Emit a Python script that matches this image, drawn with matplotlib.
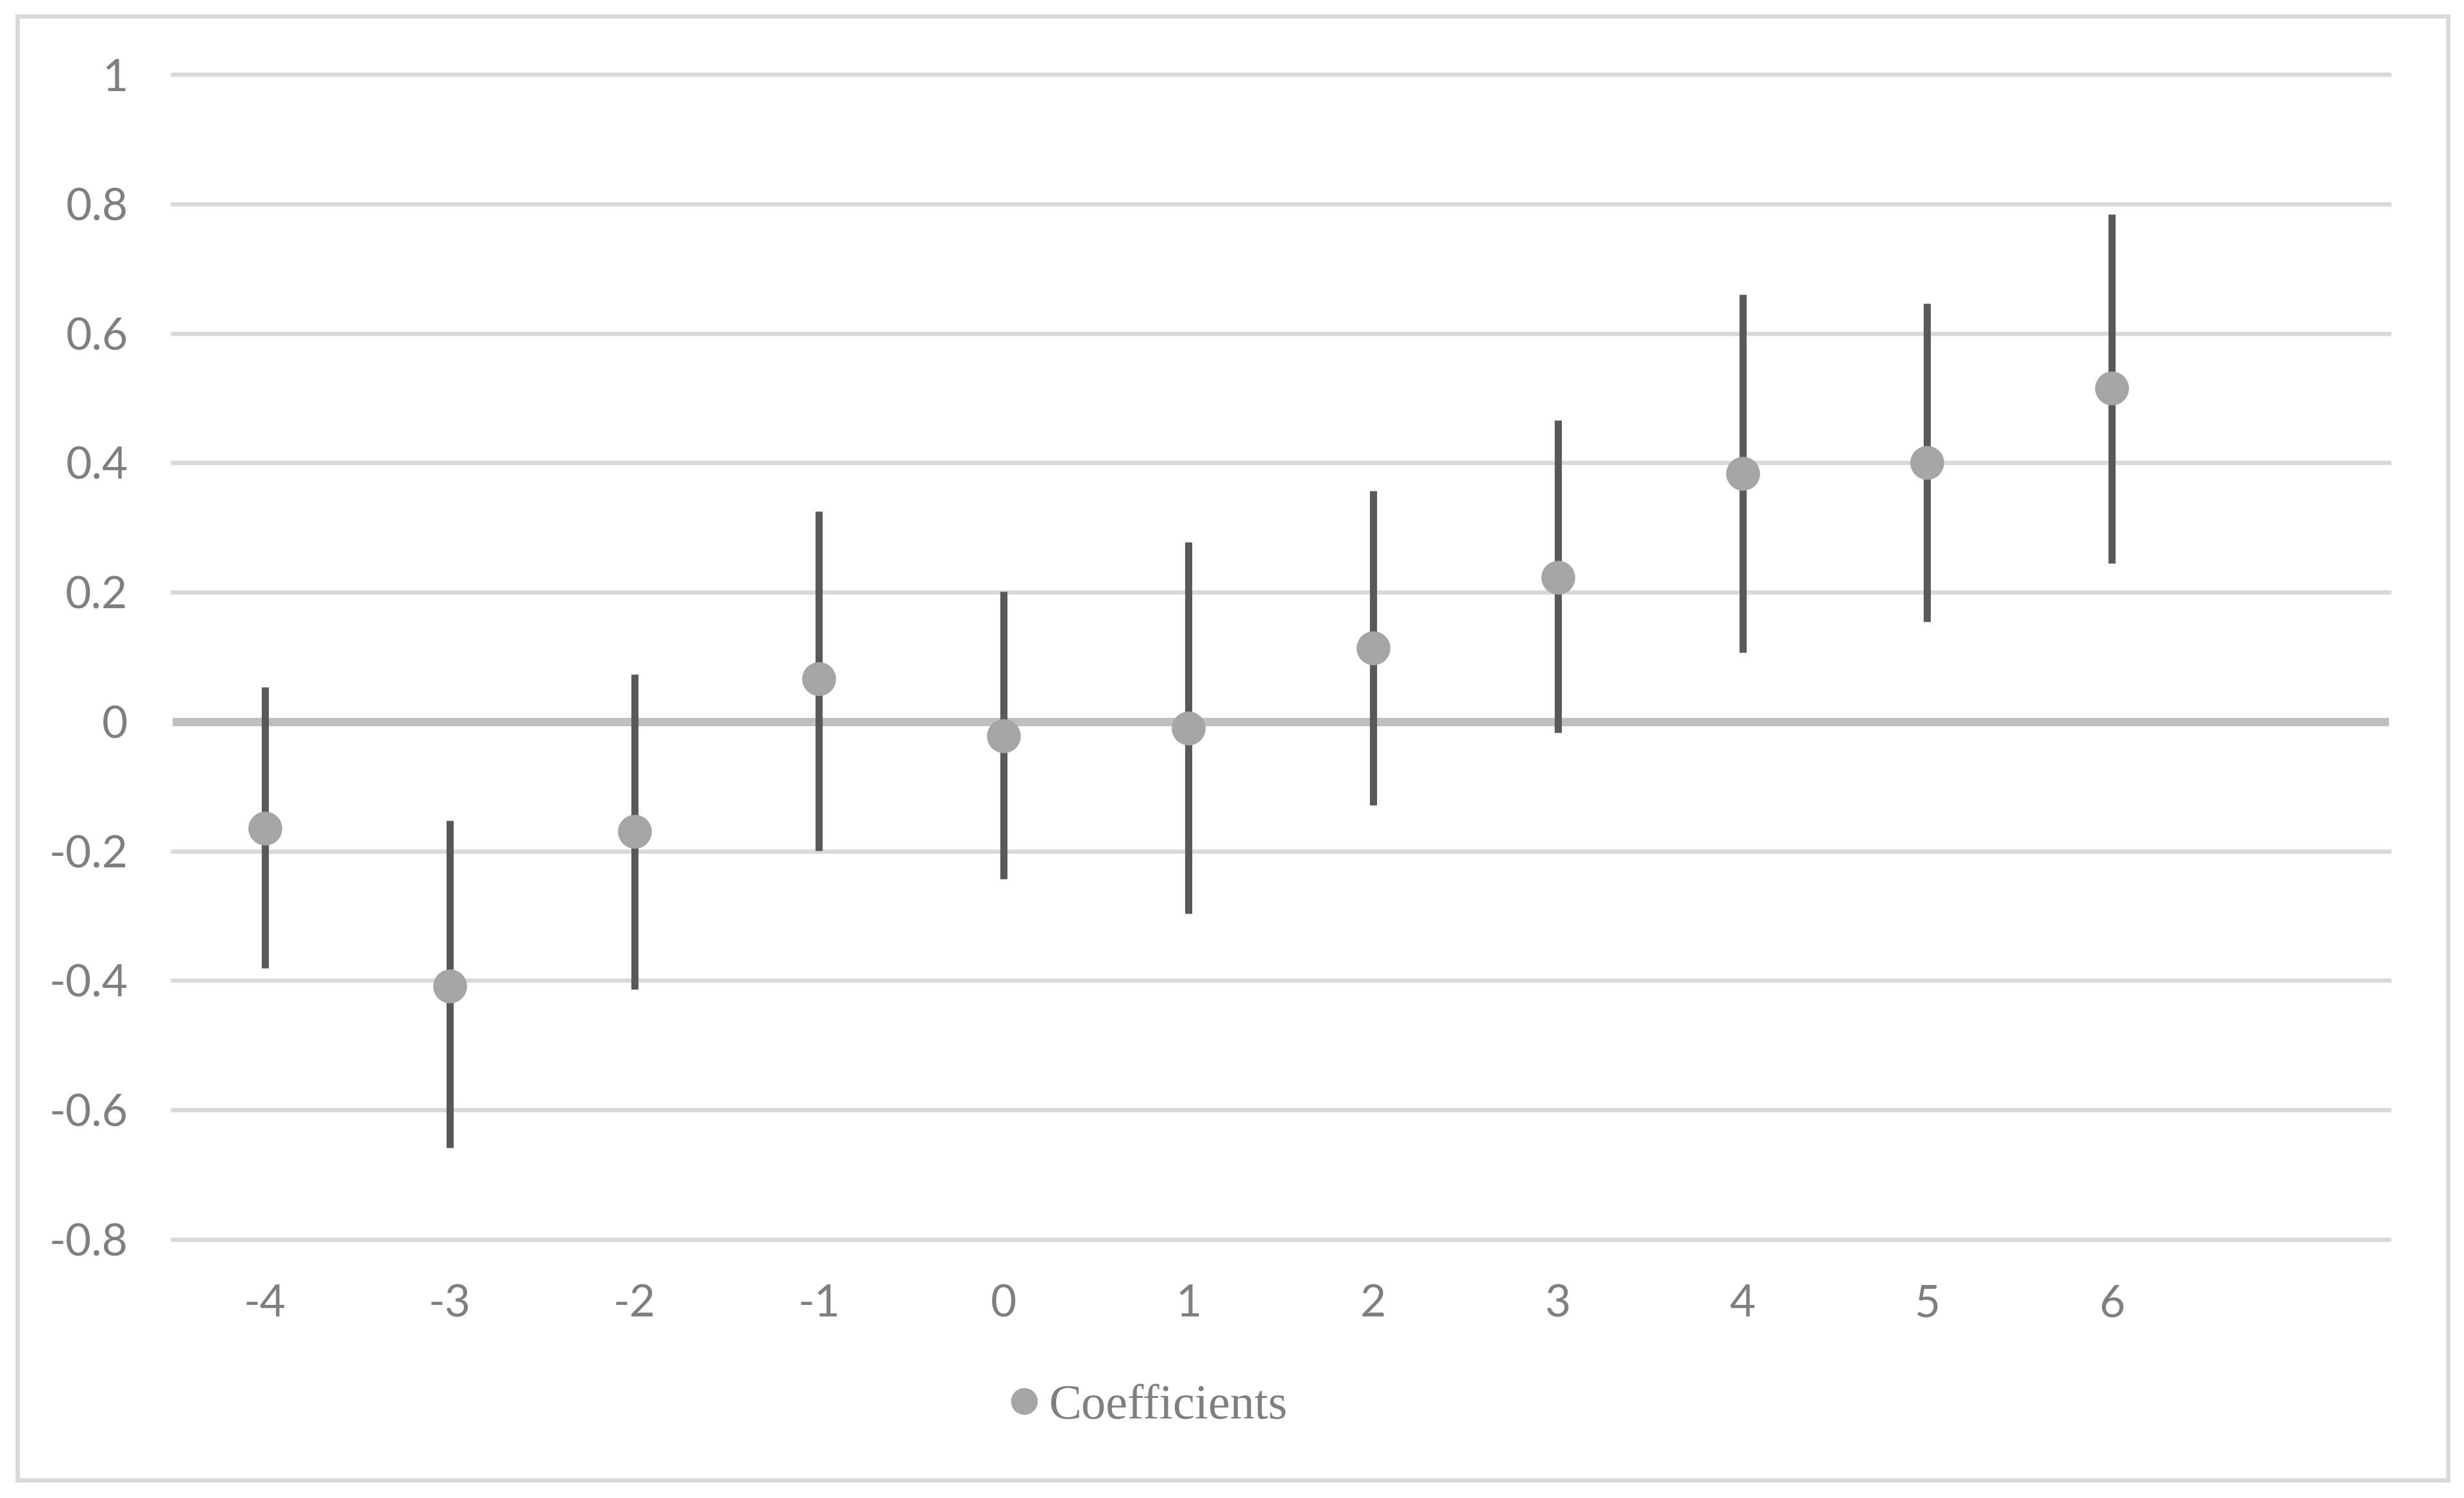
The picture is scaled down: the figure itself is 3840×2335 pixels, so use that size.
import matplotlib
matplotlib.use("Agg")
import matplotlib.pyplot as plt
from matplotlib.patches import Rectangle
from matplotlib.lines import Line2D

# Data
categories = ["-4", "-3", "-2", "-1", "0", "1", "2", "3", "4", "5", "6"]
coefficients = [-0.165, -0.408, -0.170, 0.066, -0.022, -0.010, 0.114, 0.223, 0.383, 0.400, 0.515]
upper = [0.053, -0.153, 0.073, 0.325, 0.201, 0.277, 0.357, 0.466, 0.660, 0.646, 0.784]
lower = [-0.381, -0.658, -0.413, -0.199, -0.243, -0.296, -0.129, -0.017, 0.107, 0.155, 0.245]
y_ticks = [-0.8, -0.6, -0.4, -0.2, 0, 0.2, 0.4, 0.6, 0.8, 1]
y_labels = ["-0.8", "-0.6", "-0.4", "-0.2", "0", "0.2", "0.4", "0.6", "0.8", "1"]
n_slots = 12

DPI = 200
fig = plt.figure(figsize=(3840 / DPI, 2335 / DPI), dpi=DPI)
fig.patch.set_facecolor("white")

ax = fig.add_axes([269 / 3840, 1 - 1932 / 2335, (3723 - 269) / 3840, (1932 - 116) / 2335])
ax.set_xlim(-0.5, n_slots - 0.5)
ax.set_ylim(-0.8, 1.0)

grid_c = "#d9d9d9"
for yt in y_ticks:
    if yt == 0:
        continue
    ax.axhline(yt, color=grid_c, lw=2.4, zorder=1, clip_on=False)
ax.axhline(0, color="#bfbfbf", lw=4.7, zorder=2)

xs = list(range(len(categories)))
for x, lo, hi in zip(xs, lower, upper):
    ax.vlines(x, lo, hi, color="#595959", lw=4.0, zorder=3)
ax.plot(xs, coefficients, linestyle="none", marker="o", markersize=19,
        color="#a5a5a5", markeredgewidth=0, zorder=4)

for s in ax.spines.values():
    s.set_visible(False)

tick_font = "Lato"
ax.set_yticks(y_ticks)
ax.set_yticklabels(y_labels, fontsize=25, color="#7f7f7f", fontfamily=tick_font)
ax.set_xticks(xs)
ax.set_xticklabels(categories, fontsize=25, color="#7f7f7f", fontfamily=tick_font)
ax.tick_params(axis="both", length=0)
ax.tick_params(axis="y", pad=25)
ax.tick_params(axis="x", pad=25)

# Legend
handle = Line2D([], [], linestyle="none", marker="o", markersize=15,
                color="#a5a5a5", markeredgewidth=0)
leg = fig.legend([handle], ["Coefficients"], loc="center",
                 bbox_to_anchor=(1790 / 3840, 1 - 2192 / 2335), frameon=False,
                 prop={"family": "Liberation Serif", "size": 27.5},
                 handlelength=0.6, handletextpad=0.2, borderpad=0)
for t in leg.get_texts():
    t.set_color("#7f7f7f")

# Outer chart border
fig.patches.append(Rectangle((27 / 3840, 1 - 2307 / 2335), (3815 - 27) / 3840, (2307 - 25) / 2335,
                             transform=fig.transFigure, fill=False, edgecolor=grid_c, lw=2.4))

fig.savefig("out.png", dpi=DPI, facecolor="white")
